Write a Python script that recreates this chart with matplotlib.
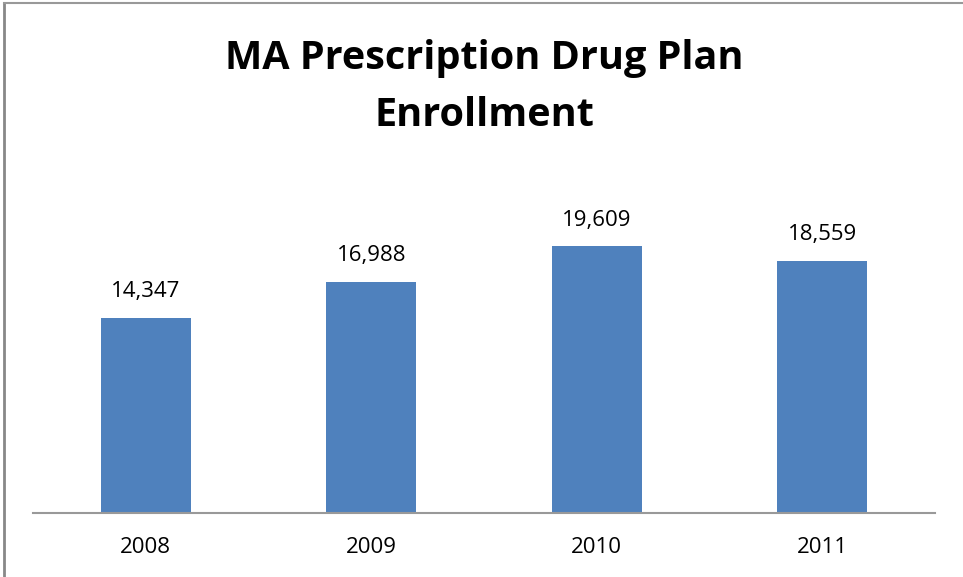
import matplotlib.pyplot as plt

years = ['2008', '2009', '2010', '2011']
enrollment = [14347, 16988, 19609, 18559]

plt.rcParams['font.family'] = ['Open Sans', 'DejaVu Sans']

fig = plt.figure(figsize=(9.63, 5.77), dpi=100)
ax = fig.add_axes([33/963, 64/577, 902/963, 340/577])

x = range(len(years))
ax.bar(x, enrollment, width=0.4, color='#4f81bd')
for i, v in enumerate(enrollment):
    ax.text(i, v + 1150, '{:,}'.format(v), ha='center', va='bottom', fontsize=16)

ax.set_xlim(-0.5, len(years) - 0.5)
ax.set_ylim(0, 25000)
ax.set_xticks(list(x))
ax.set_xticklabels(years, fontsize=16)
ax.tick_params(axis='x', length=0, pad=17)
ax.set_yticks([])
for s in ['top', 'right', 'left']:
    ax.spines[s].set_visible(False)
ax.spines['bottom'].set_color('#999999')
ax.spines['bottom'].set_linewidth(1.5)

fig.text(484/963, 1 - 87/577, 'MA Prescription Drug Plan\nEnrollment', ha='center', va='center',
         fontsize=28.5, fontweight='bold', linespacing=1.6)

# chart frame (left and top edges visible)
fig.add_artist(plt.Line2D([4/963, 4/963], [0, 1 - 3/577], color='#888888', lw=2, transform=fig.transFigure))
fig.add_artist(plt.Line2D([4/963, 1], [1 - 3/577, 1 - 3/577], color='#999999', lw=1.5, transform=fig.transFigure))

fig.savefig('out.png', dpi=100)
